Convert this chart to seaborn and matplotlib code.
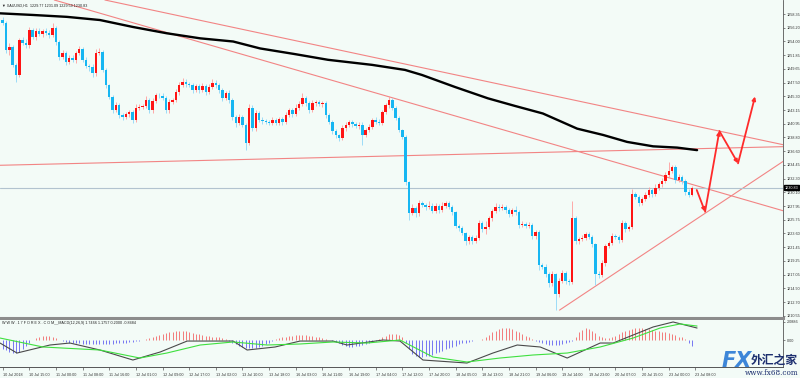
import matplotlib
matplotlib.use("Agg")
import matplotlib.pyplot as plt
import matplotlib.transforms as mtransforms
import numpy as np
import pandas as pd
import seaborn as sns

# XAUUSD H1 candles (open of a bar = close of the bar before)
first_open = 1257.4
close = [
    1256.9, 1252.7, 1253.1, 1250.3, 1248.7, 1254.2, 1253.8, 1253.4, 1255.8, 1254.7,
    1255.7, 1255.2, 1255.7, 1255.3, 1255.0, 1256.1, 1253.9, 1251.5, 1252.2, 1250.7,
    1251.4, 1251.1, 1252.2, 1252.8, 1251.1, 1250.1, 1249.9, 1249.0, 1252.2, 1252.3,
    1249.5, 1247.1, 1245.2, 1243.1, 1243.9, 1242.4, 1242.0, 1242.5, 1242.8, 1241.6,
    1243.5, 1243.6, 1243.8, 1244.7, 1243.1, 1244.6, 1245.5, 1245.4, 1245.0, 1243.1,
    1244.4, 1244.7, 1246.0, 1247.1, 1247.6, 1247.3, 1247.1, 1246.3, 1246.9, 1246.3,
    1246.9, 1246.0, 1246.8, 1247.4, 1247.1, 1246.3, 1245.0, 1245.8, 1244.7, 1242.0,
    1241.1, 1242.0, 1240.8, 1237.9, 1243.5, 1240.3, 1242.7, 1241.6, 1241.4, 1241.2,
    1241.1, 1241.6, 1241.1, 1241.7, 1241.2, 1242.4, 1243.1, 1242.5, 1243.5, 1244.1,
    1245.0, 1244.2, 1243.1, 1244.2, 1244.4, 1244.1, 1244.2, 1242.4, 1241.2, 1239.8,
    1239.2, 1238.7, 1240.3, 1240.8, 1241.2, 1240.9, 1240.6, 1240.8, 1239.2, 1240.0,
    1240.5, 1241.6, 1241.2, 1241.1, 1242.8, 1243.9, 1244.7, 1243.5, 1241.9, 1240.0,
    1238.9, 1231.7, 1226.8, 1227.6, 1226.8, 1228.4, 1228.1, 1227.8, 1228.0, 1227.2,
    1228.0, 1227.3, 1228.0, 1228.4, 1227.8, 1227.0, 1224.8, 1224.5, 1223.7, 1222.4,
    1223.0, 1222.4, 1222.9, 1225.2, 1224.3, 1224.6, 1226.0, 1227.2, 1227.8, 1227.6,
    1227.8, 1227.3, 1226.7, 1227.3, 1227.0, 1224.9, 1225.1, 1224.8, 1224.9, 1223.2,
    1223.8, 1218.6, 1218.3, 1217.2, 1215.7, 1217.2, 1214.0, 1216.1, 1217.3, 1216.1,
    1215.9, 1226.0, 1222.4, 1222.7, 1222.9, 1223.5, 1223.0, 1221.9, 1217.2, 1217.0,
    1218.9, 1221.6, 1222.1, 1223.2, 1223.0, 1222.6, 1225.2, 1224.3, 1224.6, 1229.8,
    1229.4, 1228.4, 1229.1, 1229.7, 1230.5, 1229.8, 1230.8, 1231.4, 1231.9, 1232.9,
    1233.5, 1234.1, 1232.1, 1232.5, 1231.9, 1230.2, 1229.77, 1230.83,
]
# upper / lower shadow lengths beyond the body
wick_hi = [
    0.5, 0.3, 0.6, 0.4, 0.3, 0.4, 0.5, 0.6, 0.5, 0.4,
    0.4, 0.5, 0.3, 0.4, 0.5, 0.8, 0.3, 0.4, 0.5, 0.3,
    0.5, 0.4, 0.3, 0.5, 0.3, 0.4, 0.3, 0.5, 0.6, 0.7,
    0.3, 0.3, 0.2, 0.3, 0.5, 0.4, 0.3, 0.4, 0.4, 0.3,
    0.6, 0.5, 0.3, 0.7, 0.4, 0.5, 0.4, 0.3, 0.4, 0.3,
    0.5, 0.3, 0.4, 0.5, 0.6, 0.4, 0.3, 0.3, 0.4, 0.3,
    0.5, 0.3, 0.4, 0.7, 0.5, 0.3, 0.3, 0.4, 0.5, 0.3,
    0.3, 0.5, 0.4, 0.3, 0.6, 0.4, 0.5, 0.3, 0.4, 0.3,
    0.3, 0.4, 0.3, 0.4, 0.3, 0.5, 0.4, 0.3, 0.6, 0.5,
    0.8, 0.4, 0.3, 0.5, 0.4, 0.3, 0.4, 0.3, 0.2, 0.3,
    0.3, 0.2, 0.5, 0.4, 0.3, 0.4, 0.3, 0.5, 0.4, 0.3,
    0.4, 0.3, 0.4, 0.5, 0.3, 0.4, 0.7, 0.4, 0.3, 0.3,
    0.2, 0.3, 0.2, 0.6, 0.4, 0.5, 0.4, 0.3, 0.8, 0.4,
    0.5, 0.3, 0.6, 0.4, 0.3, 0.3, 0.2, 0.3, 0.3, 0.2,
    0.4, 0.3, 0.4, 0.6, 0.3, 0.9, 0.4, 0.3, 0.6, 0.4,
    0.5, 0.3, 0.4, 0.4, 0.6, 0.3, 0.4, 0.3, 0.5, 0.3,
    0.4, 0.3, 0.3, 0.4, 0.3, 0.4, 0.2, 0.5, 0.5, 0.4,
    0.3, 2.8, 0.3, 0.4, 0.5, 0.3, 0.4, 0.3, 0.2, 0.4,
    0.5, 0.4, 0.3, 0.4, 0.3, 0.4, 0.5, 0.3, 0.4, 0.8,
    0.4, 0.3, 0.3, 0.4, 0.5, 0.3, 0.6, 0.4, 0.5, 0.4,
    1.4, 0.3, 0.4, 0.5, 0.3, 0.3, 0.4, 0.26,
]
wick_lo = [
    0.3, 0.5, 0.8, 0.4, 1.1, 0.3, 0.4, 0.5, 0.4, 0.3,
    0.4, 0.3, 0.5, 0.3, 0.4, 0.3, 0.5, 0.4, 0.3, 0.5,
    0.3, 0.4, 0.5, 0.3, 0.4, 0.3, 0.5, 0.6, 0.4, 0.3,
    0.4, 0.5, 0.3, 0.4, 0.3, 0.5, 0.4, 0.3, 0.4, 0.5,
    0.3, 0.4, 0.3, 0.4, 0.5, 0.4, 0.3, 0.4, 0.3, 0.5,
    0.4, 0.3, 0.3, 0.4, 0.3, 0.5, 0.3, 0.4, 0.3, 0.4,
    0.3, 0.4, 0.3, 0.3, 0.4, 0.5, 0.4, 0.3, 0.5, 0.4,
    0.6, 0.3, 0.4, 1.1, 0.3, 0.5, 0.4, 0.3, 0.4, 0.3,
    0.4, 0.3, 0.4, 0.3, 0.4, 0.3, 0.4, 0.5, 0.3, 0.4,
    0.3, 0.4, 0.5, 0.3, 0.4, 0.3, 0.4, 0.5, 0.3, 0.4,
    0.5, 0.4, 0.3, 0.4, 0.3, 0.4, 0.3, 0.4, 1.6, 0.3,
    0.3, 0.4, 0.3, 0.4, 0.3, 0.3, 0.4, 0.3, 0.4, 0.3,
    0.4, 0.5, 1.1, 0.3, 0.6, 0.4, 0.3, 0.5, 0.3, 0.4,
    0.3, 0.4, 0.3, 0.3, 0.4, 0.5, 0.4, 0.5, 0.4, 0.6,
    0.4, 0.5, 0.3, 0.4, 0.5, 0.8, 0.3, 0.4, 0.3, 0.4,
    0.3, 0.4, 0.5, 0.3, 0.4, 0.5, 0.3, 0.4, 0.3, 0.5,
    0.4, 0.8, 0.4, 0.5, 0.6, 0.4, 2.5, 0.4, 0.3, 0.5,
    0.4, 0.3, 0.5, 0.4, 0.3, 0.4, 0.3, 0.5, 1.7, 0.4,
    0.3, 0.4, 0.3, 0.4, 0.3, 0.5, 0.3, 0.4, 0.3, 0.3,
    0.4, 0.5, 0.3, 0.4, 0.3, 0.4, 0.3, 0.3, 0.4, 0.3,
    0.3, 0.4, 0.5, 0.3, 0.4, 0.5, 0.4, 0.18,
]

# thick black moving average (bar index, price)
ma_bar = [-0.8, 9.1, 19.3, 29.2, 39.1, 49.3, 59.3, 69.2, 77.3, 87.8, 97.7, 110.9,
          120.8, 125.9, 135.8, 145.7, 153.8, 162.2, 172.5, 180.3, 187.5, 195.3, 202.5, 208.5]
ma_val = [1258.46, 1258.2, 1257.9, 1257.4, 1256.3, 1255.3, 1254.5, 1254.0, 1252.9, 1252.0,
          1251.1, 1250.3, 1249.5, 1248.7, 1246.8, 1245.0, 1243.8, 1242.6, 1240.2, 1239.2,
          1238.1, 1237.4, 1237.2, 1236.8]

# hand drawn trend lines: (bar, price) pairs
trend_a = [(33.1, 1260.3), (230.4, 1238.1)]
trend_b = [(77.8, 1251.07), (230.4, 1227.8)]
trend_c = [(-0.8, 1234.4), (230.4, 1237.3)]
support = [(167.2, 1211.47), (236.0, 1235.6)]

# red forecast arrows
fc_bar = [208.4, 210.9, 215.2, 220.8, 225.9]
fc_price = [1230.49, 1227.05, 1239.83, 1234.71, 1245.29]

last_price = 1230.83
price_ticks = [1258.35, 1256.20, 1254.00, 1251.85, 1249.65, 1247.50, 1245.30, 1243.15,
               1240.95, 1238.80, 1236.60, 1234.45, 1232.30, 1230.10, 1227.95, 1225.75,
               1223.60, 1221.45, 1219.25, 1217.05, 1214.90, 1212.70, 1210.55]

# MACD panel
macd_hist = [
    -1.0, -1.2, -1.4, -1.5, -1.5, -1.4, -1.1, -0.7, -0.3, 0.05,
    0.2, 0.35, 0.45, 0.5, 0.45, 0.4, 0.25, 0.05,
    -0.1, -0.2, -0.3, -0.35, -0.4, -0.4, -0.45, -0.5, -0.5, -0.5, -0.5, -0.5, -0.5,
    -0.45, -0.45, -0.45, -0.4, -0.4, -0.35, -0.3, -0.25, -0.2, -0.15, -0.1, -0.05,
    0.1, 0.2, 0.35, 0.5, 0.6, 0.7, 0.8, 0.9, 0.95, 1.0, 1.05, 1.05, 1.0, 0.95, 0.85,
    0.75, 0.65, 0.55, 0.5, 0.45, 0.4, 0.35, 0.3, 0.2, 0.1,
    -0.1, -0.3, -0.5, -0.65, -0.8, -0.9, -0.95, -0.95, -0.9, -0.8, -0.65, -0.5, -0.3, -0.15,
    0.1, 0.2, 0.3, 0.4, 0.45, 0.5, 0.55, 0.6, 0.6, 0.55, 0.5, 0.45, 0.35, 0.3, 0.2, 0.1, 0.05,
    -0.1, -0.25, -0.4, -0.55, -0.7, -0.8, -0.8, -0.75, -0.7, -0.6, -0.45, -0.3, -0.2, -0.1,
    0.15, 0.35, 0.5, 0.65, 0.75, 0.75, 0.6, 0.3,
    -0.4, -1.1, -1.6, -1.9, -2.0, -2.0, -1.9, -1.8, -1.7, -1.55, -1.4, -1.25, -1.1, -0.95,
    -0.8, -0.65, -0.5, -0.4, -0.3, -0.2, -0.1, -0.05, -0.05,
    0.1, 0.3, 0.6, 0.9, 1.1, 1.3, 1.4, 1.4, 1.35, 1.25, 1.1, 0.9, 0.7, 0.5, 0.3, 0.15,
    -0.1, -0.25, -0.4, -0.5, -0.55, -0.6, -0.6, -0.55, -0.5, -0.4, -0.25, -0.1,
    0.4, 0.9, 1.2, 1.35, 1.3, 1.1, 0.8, 0.5,
    0.3, 0.2, 0.25, 0.35,
    0.5, 0.7, 0.9, 1.05, 1.2, 1.3, 1.4, 1.4, 1.35, 1.3, 1.25, 1.2, 1.1, 1.0, 0.95, 0.9,
    0.8, 0.7, 0.55, 0.4, 0.3, 0.15,
    -0.4, -0.7,
]
macd_bar = [-0.8, 4.3, 14.2, 20.2, 29.2, 39.1, 47.3, 55.4, 69.2, 73.4, 81.8, 89.3, 99.2,
            103.4, 114.2, 119.3, 126.2, 139.4, 147.2, 154.5, 161.4, 169.5, 179.4, 183.3,
            189.3, 195.3, 201.3, 208.5]
macd_line = [-0.35, -1.51, -0.58, -0.35, -1.16, -2.32, -1.39, -0.12, -0.12, -1.16, -0.81,
             -0.12, -0.12, -0.58, 0.0, -0.12, -2.32, -2.67, -1.51, -0.58, -0.81, -2.09,
             -0.35, -0.35, 0.58, 1.51, 2.09, 1.39]
sig_bar = [-0.8, 12.1, 29.2, 41.2, 49.3, 59.3, 69.2, 79.4, 89.3, 99.2, 109.4, 119.3,
           129.2, 139.4, 149.3, 159.2, 169.5, 179.4, 189.3, 197.4, 203.4, 208.5]
sig_line = [0.23, -0.81, -1.16, -2.09, -1.51, -0.58, -0.23, -0.58, -0.46, -0.23, -0.35,
            0.0, -1.97, -2.55, -2.09, -1.74, -1.51, -0.81, 0.23, 1.39, 1.86, 1.62]

time_labels = ["10 Jul 2018", "10 Jul 15:00", "11 Jul 00:00", "11 Jul 08:00", "11 Jul 16:00",
               "12 Jul 01:00", "12 Jul 09:00", "12 Jul 17:00", "13 Jul 02:00", "13 Jul 10:00",
               "13 Jul 18:00", "16 Jul 03:00", "16 Jul 11:00", "16 Jul 19:00", "17 Jul 04:00",
               "17 Jul 12:00", "17 Jul 20:00", "18 Jul 05:00", "18 Jul 13:00", "18 Jul 21:00",
               "19 Jul 06:00", "19 Jul 14:00", "19 Jul 23:00", "20 Jul 07:00", "20 Jul 15:00",
               "23 Jul 00:00", "23 Jul 08:00"]
time_label_bars = [8 * i for i in range(len(time_labels))]

bg = '#f3fbf7'
sns.set_style('white', {'axes.facecolor': bg, 'figure.facecolor': bg})
plt.rcParams['font.family'] = ['DejaVu Sans', 'Noto Sans CJK SC']
small = dict(family='Liberation Sans', size=2.7)

fig = plt.figure(figsize=(8, 3.78), dpi=100)
W, H = 800, 378
ax = fig.add_axes([0, 1 - 318 / H, 783 / W, 318 / H])
ax2 = fig.add_axes([0, 1 - 367 / H, 783 / W, 47 / H])
xlim = (-0.8, 234.3)

# ---- candles
bars = np.arange(len(close))
df = pd.DataFrame({'bar': bars, 'close': close})
df['open'] = [first_open] + close[:-1]
df['high'] = np.maximum(df.open, df.close) + np.array(wick_hi)
df['low'] = np.minimum(df.open, df.close) - np.array(wick_lo)
up = df.close >= df.open
for mask, body_c, wick_c in [(up, '#ff1414', '#ff9c9c'), (~up, '#16b6f2', '#8ed6f7')]:
    d = df[mask]
    ax.vlines(d.bar, d.low, d.high, color=wick_c, lw=0.6, zorder=2)
    hgt = (d.close - d.open).where((d.close - d.open).abs() > 0.1, 0.1)
    ax.bar(d.bar, hgt, bottom=d.open, width=0.72, color=body_c, lw=0, zorder=3)

sns.lineplot(x=ma_bar, y=ma_val, ax=ax, color='black', lw=1.7, zorder=4)

line_c = '#f28484'
for seg in (trend_a, trend_b, trend_c):
    ax.axline(seg[0], seg[1], color=line_c, lw=0.8, zorder=1)
ax.plot([support[0][0], support[1][0]], [support[0][1], support[1][1]], color=line_c, lw=0.8, zorder=1)

ax.axhline(last_price, color='#b2c3cf', lw=0.8, zorder=1)

for i in range(len(fc_bar) - 1):
    ax.annotate('', xy=(fc_bar[i + 1], fc_price[i + 1]), xytext=(fc_bar[i], fc_price[i]),
                arrowprops=dict(arrowstyle='-|>', color='#ff2a2a', lw=1.3,
                                mutation_scale=5, shrinkA=0, shrinkB=0), zorder=5)

ax.set_xlim(*xlim)
ax.set_ylim(1210.22, 1260.57)
ax.yaxis.tick_right()
ax.set_yticks(price_ticks)
ax.set_yticklabels([f'{p:.2f}' for p in price_ticks], fontdict=small)
ax.tick_params(axis='y', right=True, length=1.5, width=0.5, color='#555555',
               pad=1, labelcolor='#333333')
ax.set_xticks([])
ax.set_xlabel('')
ax.set_ylabel('')
for s in ('left', 'top'):
    ax.spines[s].set_visible(False)
ax.spines['right'].set_color('#555555')
ax.spines['right'].set_linewidth(0.6)
ax.spines['bottom'].set_color('#8c8c8c')
ax.spines['bottom'].set_linewidth(2.2)

trans = mtransforms.blended_transform_factory(ax.transAxes, ax.transData)
ax.text(1.002, last_price, f'{last_price:.2f}', transform=trans, color='white',
        va='center', ha='left', fontdict=small,
        bbox=dict(boxstyle='square,pad=0.12', fc='black', ec='black'))
ax.text(0.003, 0.99, '\u25bc XAUUSD,H1  1229.77 1231.09 1229.59 1230.83', transform=ax.transAxes,
        color='#222222', va='top', ha='left', fontdict=small)

# ---- MACD
hist = np.array(macd_hist)
ax2.vlines(bars, 0, hist, colors=np.where(hist >= 0, '#f27b7b', '#7676f2'), lw=0.7)
sns.lineplot(x=macd_bar, y=macd_line, ax=ax2, color='#4a4a4a', lw=0.8)
sns.lineplot(x=sig_bar, y=sig_line, ax=ax2, color='#3fe03f', lw=0.8)
ax2.set_xlim(*xlim)
ax2.set_ylim(-3.13, 2.32)
ax2.yaxis.tick_right()
ax2.set_yticks([2.0886, 0.0])
ax2.set_yticklabels(['2.0886', '0.00'], fontdict=small)
ax2.tick_params(axis='y', right=True, length=1.5, width=0.5, color='#555555',
                pad=1, labelcolor='#333333')
ax2.set_xticks(time_label_bars)
ax2.set_xticklabels(time_labels, ha='left', fontdict=small)
ax2.tick_params(axis='x', bottom=True, length=2, width=0.5, color='#555555',
                pad=2, labelcolor='#333333')
ax2.set_xlabel('')
ax2.set_ylabel('')
for s in ('left', 'top'):
    ax2.spines[s].set_visible(False)
ax2.spines['right'].set_color('#555555')
ax2.spines['right'].set_linewidth(0.6)
ax2.spines['bottom'].set_color('#555555')
ax2.spines['bottom'].set_linewidth(0.7)
ax2.text(0.003, 0.97, 'W W W . 1 7 F O R E X . C O M__MACD(12,26,9) 1.7466 1.1757 0.2000 -0.8484',
         transform=ax2.transAxes, color='#222222', va='top', ha='left', fontdict=small)

# ---- watermark
fig.text(722 / W, 1 - 371 / H, 'FX', fontsize=15, fontweight='bold', fontstyle='italic',
         color='#3d86d8', ha='left', va='bottom')
fig.text(751 / W, 1 - 367 / H, '外汇之家', fontsize=8.5, fontweight='bold',
         family=['Noto Sans CJK SC', 'DejaVu Sans'], color='#1d2f6f', ha='left', va='bottom')
fig.text(745 / W, 1 - 377 / H, 'www.fx68.com', fontsize=5.2, family='DejaVu Serif',
         color='#1d2f6f', ha='left', va='bottom')

fig.savefig('out.png', dpi=100, facecolor=bg)
